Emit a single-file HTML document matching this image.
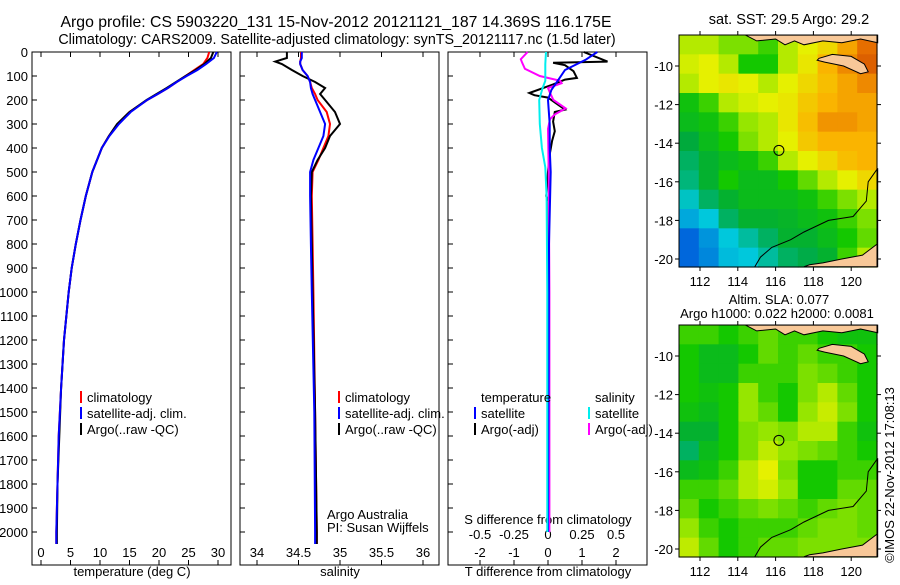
<!DOCTYPE html>
<html><head><meta charset="utf-8"><style>
html,body{margin:0;padding:0;background:#fff}
svg text{font-family:"Liberation Sans",sans-serif;font-size:13px;fill:#000}
</style></head><body>
<svg id="s" width="900" height="580" xmlns="http://www.w3.org/2000/svg">
<text x="336" y="27" text-anchor="middle" style="font-size:15.8px">Argo profile: CS 5903220_131 15-Nov-2012 20121121_187 14.369S 116.175E</text>
<text x="337" y="44" text-anchor="middle" style="font-size:14.3px">Climatology: CARS2009. Satellite-adjusted climatology: synTS_20121117.nc (1.5d later)</text>
<text x="789" y="24" text-anchor="middle" style="font-size:14.5px">sat. SST: 29.5 Argo: 29.2</text>
<text x="779" y="304" text-anchor="middle">Altim. SLA: 0.077</text>
<text x="777" y="318" text-anchor="middle">Argo h1000: 0.022 h2000: 0.0081</text>
<text transform="translate(894,475) rotate(-90)" text-anchor="middle">©IMOS 22-Nov-2012 17:08:13</text>
</svg>
<script>
// ---- data ----
const depthTicks=[0,100,200,300,400,500,600,700,800,900,1000,1100,1200,1300,1400,1500,1600,1700,1800,1900,2000];
const tDepth=[0,25,50,75,100,125,150,175,200,250,300,350,400,500,600,700,800,900,1000,1200,1400,1600,1800,2000,2050];
const tClim=[28.5,28.2,27.5,26,24.5,23,21.5,19.8,18,15,13,11.5,10.3,8.7,7.6,6.7,5.9,5.2,4.7,3.9,3.4,3.0,2.8,2.6,2.6];
const tSat=[29.8,29.3,28,26.5,24.7,23,21.5,19.8,18,15.2,13.2,11.6,10.3,8.7,7.6,6.7,5.9,5.2,4.7,3.9,3.4,3.0,2.8,2.6,2.6];
const tArgo=[29.2,28.8,27.7,26.2,24.5,22.9,21.3,19.6,17.9,15.0,12.9,11.5,10.3,8.7,7.6,6.7,5.9,5.2,4.7,3.9,3.4,3.1,2.8,2.7,2.7];
const sDepth=[0,25,40,50,75,100,125,150,175,200,250,300,350,400,450,500,600,800,1000,1500,2000,2050];
const sClim=[34.53,34.53,34.52,34.52,34.55,34.61,34.64,34.66,34.7,34.73,34.84,34.88,34.86,34.8,34.74,34.67,34.66,34.67,34.68,34.7,34.72,34.72];
const sSat=[34.54,34.54,34.52,34.52,34.55,34.61,34.64,34.65,34.67,34.7,34.76,34.82,34.8,34.74,34.68,34.64,34.64,34.65,34.66,34.69,34.7,34.7];
const sArgo=[34.36,34.36,34.22,34.3,34.42,34.55,34.7,34.82,34.76,34.82,34.94,35.0,34.88,34.82,34.73,34.66,34.65,34.66,34.67,34.7,34.72,34.72];
const dtSatDepth=[0,33,75,117,158,200,300,400,500,800,1200,2000];
const dtSat=[1.45,1.1,0.5,0.3,0.1,0,0.05,0.05,0.08,0.03,0.02,0.0];
const dtArgoDepth=[0,40,45,55,80,108,115,135,171,180,190,210,240,250,290,330,370,420,500,600,620,700,1000,1500,2000];
const dtArgo=[1.05,1.75,0.15,0.5,0.75,0.85,0.5,0.15,-0.55,-0.4,0,0.2,0.5,0.2,0.15,0.2,0.12,0.06,0.0,-0.05,0.02,0.02,0.02,0.03,0.03];
const dsArgoDepth=[0,30,45,70,100,120,130,150,170,200,235,260,280,320,500,1000,2000];
const dsArgo=[-0.15,-0.2,-0.19,-0.17,-0.06,0.09,0.1,0.0,0.015,0.04,0.13,0.05,0.015,0.0,0.005,0.01,0.01];
const dsSatDepth=[0,50,120,150,200,300,400,480,600,1000,2000];
const dsSat=[-0.015,-0.02,-0.02,-0.04,-0.065,-0.06,-0.045,-0.02,-0.01,-0.005,-0.005];
const tTicks=[0,5,10,15,20,25,30];
const sTicks=[34,34.5,35,35.5,36];
const sTickLabels=["34","34.5","35","35.5","36"];
const dTicks=[-2,-1,0,1,2];
const dsTicks=[-0.5,-0.25,0,0.25,0.5];
const dsTickLabels=["-0.5","-0.25","0","0.25","0.5"];
const lonTicks=[112,114,116,118,120];
const latTicks=[-10,-12,-14,-16,-18,-20];
const sstGrid=[
[.55,.55,.5,.5,.45,.55,.6,.65,.75,.85],
[.58,.6,.55,.42,.42,.55,.62,.72,.8,.88],
[.55,.6,.62,.6,.55,.6,.65,.7,.75,.8],
[.4,.45,.55,.58,.6,.62,.68,.72,.75,.75],
[.38,.4,.45,.52,.55,.62,.7,.78,.78,.75],
[.33,.38,.42,.5,.55,.6,.68,.72,.72,.72],
[.3,.35,.38,.4,.45,.55,.6,.65,.7,.72],
[.28,.35,.42,.38,.38,.42,.48,.55,.6,.65],
[.22,.3,.35,.38,.38,.38,.4,.45,.5,.55],
[.15,.2,.3,.35,.35,.36,.38,.4,.45,.5],
[.05,.12,.2,.25,.3,.35,.35,.38,.42,.48],
[.05,.1,.18,.2,.25,.3,.32,.35,.45,.55]];
const slaGrid=[
[.45,.45,.42,.45,.48,.45,.45,.42,.4,.4],
[.42,.38,.38,.42,.48,.45,.48,.45,.45,.42],
[.42,.38,.38,.45,.45,.45,.5,.48,.45,.42],
[.42,.4,.42,.52,.45,.42,.5,.55,.48,.42],
[.4,.38,.42,.52,.48,.42,.52,.57,.5,.42],
[.35,.35,.42,.5,.52,.5,.55,.55,.45,.4],
[.3,.38,.42,.5,.56,.52,.5,.48,.45,.42],
[.38,.4,.45,.55,.6,.5,.42,.42,.45,.45],
[.45,.45,.48,.55,.58,.52,.42,.42,.48,.48],
[.48,.42,.45,.48,.5,.48,.45,.48,.5,.48],
[.52,.45,.42,.45,.45,.45,.48,.5,.5,.48],
[.56,.48,.42,.45,.48,.48,.5,.5,.5,.5]];
const argoLon=116.175, argoLat=-14.369;
const islandLon=[118.3,119.0,120.0,120.7,120.9,120.5,119.6,118.6,118.2];
const islandLat=[-9.6,-9.4,-9.5,-9.9,-10.3,-10.4,-10.0,-9.8,-9.7];
const topLandLon=[114.4,115.0,116.0,116.5,117.0,117.5,118.5,119.5,120.5,121.4,121.4,114.4];
const topLandLat=[-8.4,-8.7,-8.6,-8.9,-8.7,-8.9,-8.7,-8.8,-8.6,-8.8,-8.4,-8.4];
const ausLon=[121.4,121.4,120.6,119.5,118.5,117.8,117.5,121.4];
const ausLat=[-15.3,-19.2,-19.8,-20.0,-20.2,-20.3,-20.4,-20.4];
const shelfLon=[121.4,120.9,120.8,120.1,118.8,117.5,116.8,115.8,115.2,114.9];
const shelfLat=[-15.3,-16.0,-17.0,-17.8,-18.0,-18.6,-19.0,-19.4,-19.9,-20.4];

const S=document.getElementById('s');const NS='http://www.w3.org/2000/svg';
function mk(tag,at,parent){const e=document.createElementNS(NS,tag);for(const k in at)e.setAttribute(k,at[k]);(parent||S).appendChild(e);return e;}
const PT=52,PB=565,yD=d=>PT+d*0.24;
const panels=[{x0:32,x1:231,f:v=>41+v*5.9},{x0:240,x1:439,f:v=>257+(v-34)*83},{x0:448,x1:647,f:v=>548+v*34}];
const fS=v=>548+v*136;
panels.forEach((p,i)=>{
 const r=mk('rect',{x:p.x0,y:PT,width:p.x1-p.x0,height:PB-PT,fill:'none',stroke:'#000','stroke-width':1});
 
 
 depthTicks.forEach(d=>{const l=mk('line',{x1:p.x0,x2:p.x0+5,y1:yD(d),y2:yD(d),stroke:'#000'});
  
  });
});
depthTicks.forEach(d=>{const t=mk('text',{x:28,y:yD(d)+5,'text-anchor':'end'});t.textContent=d;
 
 });
function xt(p,vals,labs,f,y,top){vals.forEach((v,i)=>{const x=f(v);
 mk('line',{x1:x,x2:x,y1:PB,y2:PB-5,stroke:'#000'});if(top)mk('line',{x1:x,x2:x,y1:PT,y2:PT+5,stroke:'#000'});
 const t=mk('text',{x:x,y:y,'text-anchor':'middle'});t.textContent=labs[i];
 
 });}
xt(0,tTicks,tTicks,panels[0].f,557,true);
xt(1,sTicks,sTickLabels,panels[1].f,557,true);
xt(2,dTicks,dTicks,panels[2].f,557,true);
dsTicks.forEach((v,i)=>{const t=mk('text',{x:fS(v),y:539,'text-anchor':'middle'});t.textContent=dsTickLabels[i];
 
 });
function lab(x,y,s,n,a){const t=mk('text',{x:x,y:y,'text-anchor':a||'start'});t.textContent=s;}
lab(132,576,'temperature (deg C)','x-axis-title-temperature','middle');
lab(340,576,'salinity','x-axis-title-salinity','middle');
lab(548,576,'T difference from climatology','x-axis-title-tdiff','middle');
lab(548,524,'S difference from climatology','s-diff-axis-title','middle');
lab(327,519,'Argo Australia','credit-1');lab(327,532,'PI: Susan Wijffels','credit-2');
function line(f,ds,vs,col,n,w){const pts=ds.map((d,i)=>f(vs[i]).toFixed(1)+','+yD(d).toFixed(1)).join(' ');
 const e=mk('polyline',{points:pts,fill:'none',stroke:col,'stroke-width':w||2});
 
 }
line(panels[0].f,tDepth,tClim,'#f00','temp-climatology');
line(panels[0].f,tDepth,tArgo,'#000','temp-argo');
line(panels[0].f,tDepth,tSat,'#00f','temp-satellite');
line(panels[1].f,sDepth,sClim,'#f00','sal-climatology');
line(panels[1].f,sDepth,sArgo,'#000','sal-argo');
line(panels[1].f,sDepth,sSat,'#00f','sal-satellite');
line(panels[2].f,dtArgoDepth,dtArgo,'#000','tdiff-argo');
line(fS,dsArgoDepth,dsArgo,'#f0f','sdiff-argo');
line(panels[2].f,dtSatDepth,dtSat,'#00f','tdiff-satellite');
line(fS,dsSatDepth,dsSat,'#0ee','sdiff-satellite');
function leg(x,y,col,s,n){if(col){const m=mk('line',{x1:x-6,x2:x-6,y1:y-11,y2:y+1,stroke:col,'stroke-width':2});
 
 }
 lab(x,y,s,n);}
[[87,'climatology','#f00'],[345,'climatology','#f00']].forEach(a=>leg(a[0],402,a[2],a[1],'legend-climatology'));
leg(87,418,'#00f','satellite-adj. clim.','legend-satellite');leg(345,418,'#00f','satellite-adj. clim.','legend-satellite');
leg(87,434,'#000','Argo(..raw -QC)','legend-argo');leg(345,434,'#000','Argo(..raw -QC)','legend-argo');
leg(481,402,null,'temperature','legend-temperature-header');leg(595,402,null,'salinity','legend-salinity-header');
leg(481,418,'#00f','satellite','legend-t-satellite');leg(481,434,'#000','Argo(-adj)','legend-t-argo');
leg(595,418,'#0ee','satellite','legend-s-satellite');leg(595,434,'#f0f','Argo(-adj)','legend-s-argo');
// ---- maps ----
const cm=[[0,[0,70,220]],[.2,[0,200,220]],[.33,[0,170,60]],[.42,[20,200,0]],[.52,[150,230,0]],[.6,[230,240,0]],[.72,[250,180,0]],[.85,[230,110,0]],[1,[180,40,0]]];
function col(v){for(let i=1;i<cm.length;i++)if(v<=cm[i][0]){const a=cm[i-1],b=cm[i],t=(v-a[0])/(b[0]-a[0]);return 'rgb('+a[1].map((c,k)=>Math.round(c+(b[1][k]-c)*t)).join(',')+')';}return 'rgb(180,40,0)';}
function map(top,bot,lat10,lat20,grid,n){
 const L=679,R=877,lx=lon=>700+(lon-112)*18.9,ly=lat=>lat10+(lat+10)*(lat20-lat10)/(-10);
 const g=mk('g',{});
 const rows=grid.length,cols=grid[0].length,cw=(R-L)/cols,ch=(bot-top)/rows;
 grid.forEach((row,j)=>row.forEach((v,i)=>{const c=mk('rect',{x:L+i*cw,y:top+j*ch,width:cw+.6,height:ch+.6,fill:col(v)},g);
  
  }));
 const poly=(lo,la,f,st)=>mk(f?'polygon':'polyline',{points:lo.map((x,i)=>lx(x).toFixed(1)+','+ly(la[i]).toFixed(1)).join(' '),fill:f||'none',stroke:'#000','stroke-width':st},g);
 poly(topLandLon,topLandLat,'#f8c898',1);poly(islandLon,islandLat,'#f8c898',1);poly(ausLon,ausLat,'#f8c898',1);poly(shelfLon,shelfLat,null,1);
 mk('rect',{x:L,y:top,width:R-L,height:bot-top,fill:'none',stroke:'#000'},g);
 mk('circle',{cx:lx(argoLon),cy:ly(argoLat),r:5,fill:'none',stroke:'#000'},g);
 lonTicks.forEach(lo=>{const x=lx(lo);mk('line',{x1:x,x2:x,y1:top,y2:top-4,stroke:'#000'},g);mk('line',{x1:x,x2:x,y1:bot,y2:bot+4,stroke:'#000'},g);
  const t=mk('text',{x:x,y:bot+19,'text-anchor':'middle'},g);t.textContent=lo;});
 latTicks.forEach(la=>{const y=ly(la);mk('line',{x1:L,x2:L-4,y1:y,y2:y,stroke:'#000'},g);mk('line',{x1:R,x2:R+4,y1:y,y2:y,stroke:'#000'},g);
  const t=mk('text',{x:L-6,y:y+5,'text-anchor':'end'},g);t.textContent=la;});
}
map(35,267,66,259,sstGrid,'sst-map');
map(325,557,356,549,slaGrid,'sla-map');
</script>
</body></html>
